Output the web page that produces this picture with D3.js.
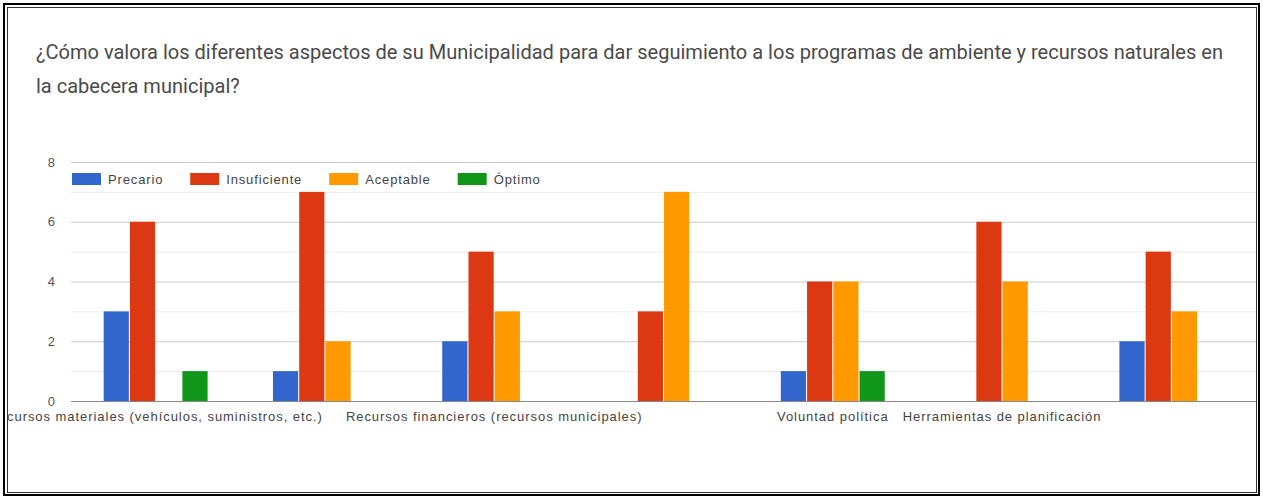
<!DOCTYPE html>
<html><head><meta charset="utf-8">
<script src="https://cdn.jsdelivr.net/npm/d3@7"></script>
<style>html,body{margin:0;padding:0;background:#fff;}svg{display:block;}</style>
</head><body>
<script>
const titleLines = [
  "¿Cómo valora los diferentes aspectos de su Municipalidad para dar seguimiento a los programas de ambiente y recursos naturales en",
  "la cabecera municipal?"
];
const categories = ["c1","c2","c3","c4","c5","c6","c7"];
const categoryLabels = [
  "Recursos materiales (vehículos, suministros, etc.)",
  "",
  "Recursos financieros (recursos municipales)",
  "",
  "Voluntad política",
  "Herramientas de planificación",
  ""
];
const seriesNames = ["Precario","Insuficiente","Aceptable","Óptimo"];
const seriesColors = ["#3366cc","#dc3912","#ff9900","#109618"];
const precario     = [3,1,2,0,1,0,2];
const insuficiente = [6,7,5,3,4,6,5];
const aceptable    = [0,2,3,7,4,4,3];
const optimo       = [1,0,0,0,1,0,0];
const yTicks = [0,2,4,6,8];
const yGrid = [0,1,2,3,4,5,6,7,8];

const seriesValues = [precario, insuficiente, aceptable, optimo];
const W = 1263, H = 497;
const svg = d3.select("body").append("svg").attr("width",W).attr("height",H);
svg.append("rect").attr("width",W).attr("height",H).attr("fill","#fff");

const defs = svg.append("defs");
defs.append("clipPath").attr("id","inner").append("rect")
  .attr("x",8).attr("y",8).attr("width",1248).attr("height",484);

const g = svg.append("g").attr("clip-path","url(#inner)");

// title
const titleFont = "Roboto, 'Liberation Sans', Arial, sans-serif";
const t1 = g.append("text").attr("x",36).attr("y",59)
  .attr("font-family",titleFont).attr("font-size",16).attr("fill","#4a4a4a")
  .text(titleLines[0]);
const len = t1.node().getComputedTextLength();
const fs = 16 * (1188 / len);
t1.attr("font-size", fs);
g.append("text").attr("x",36).attr("y",93)
  .attr("font-family",titleFont).attr("font-size",fs).attr("fill","#4a4a4a")
  .text(titleLines[1]);

// scales
const x = d3.scaleBand().domain(categories).range([71,1256]).paddingInner(0.386).paddingOuter(0.193);
const xs = d3.scaleBand().domain(seriesNames).range([0,x.bandwidth()]).paddingInner(0.04);
const y = d3.scaleLinear().domain([0,8]).range([401,162]);

const chartFont = "'Liberation Sans', Arial, sans-serif";

// gridlines
g.append("g").selectAll("line").data(yGrid.filter(v=>v>0)).join("line")
  .attr("x1",71).attr("x2",1256).attr("y1",d=>y(d)+0.5).attr("y2",d=>y(d)+0.5)
  .attr("stroke",d=>d%2===0?"#cccccc":"#ebebeb").attr("stroke-width",1);

// y axis
const yAxis = d3.axisLeft(y).tickValues(yTicks).tickSize(0).tickPadding(16).tickFormat(d3.format("d"));
const ya = g.append("g").attr("transform","translate(71,0)").call(yAxis);
ya.select(".domain").remove();
ya.selectAll("text").attr("font-family",chartFont).attr("font-size",13).attr("fill","#555");

// bars
const groups = g.append("g").selectAll("g").data(categories).join("g")
  .attr("transform",d=>`translate(${x(d)},0)`);
groups.selectAll("rect").data((c,i)=>seriesNames.map((s,j)=>({s,j,v:seriesValues[j][i]}))).join("rect")
  .attr("x",d=>xs(d.s)).attr("width",xs.bandwidth())
  .attr("y",d=>y(d.v)).attr("height",d=>y(0)-y(d.v))
  .attr("fill",d=>seriesColors[d.j]);

// baseline
g.append("line").attr("x1",71).attr("x2",1256).attr("y1",y(0)+0.5).attr("y2",y(0)+0.5)
  .attr("stroke","#888").attr("stroke-width",1.2);

// x axis
const xAxis = d3.axisBottom(x).tickSize(0).tickPadding(11).tickFormat((d,i)=>categoryLabels[i]);
const xa = g.append("g").attr("transform",`translate(0,${y(0)})`).call(xAxis);
xa.select(".domain").remove();
xa.selectAll("text").attr("font-family",chartFont).attr("font-size",13)
  .attr("letter-spacing","0.95px").attr("fill","#444");

// legend
const leg = g.append("g").attr("transform","translate(72,173)");
let lx = 0;
seriesNames.forEach((s,i)=>{
  const it = leg.append("g").attr("transform",`translate(${lx},0)`);
  it.append("rect").attr("width",29).attr("height",12).attr("fill",seriesColors[i]);
  const tx = it.append("text").attr("x",36).attr("y",11).attr("font-family",chartFont)
    .attr("font-size",13).attr("letter-spacing","0.85px").attr("fill","#444").text(s);
  lx += 36 + tx.node().getComputedTextLength() + 27;
});

// frame
svg.append("rect").attr("x",4).attr("y",4).attr("width",1255).attr("height",491)
  .attr("fill","none").attr("stroke","#000").attr("stroke-width",2);
svg.append("rect").attr("x",7.5).attr("y",7.5).attr("width",1249).attr("height",485)
  .attr("fill","none").attr("stroke","#333").attr("stroke-width",1);
</script>
</body></html>
